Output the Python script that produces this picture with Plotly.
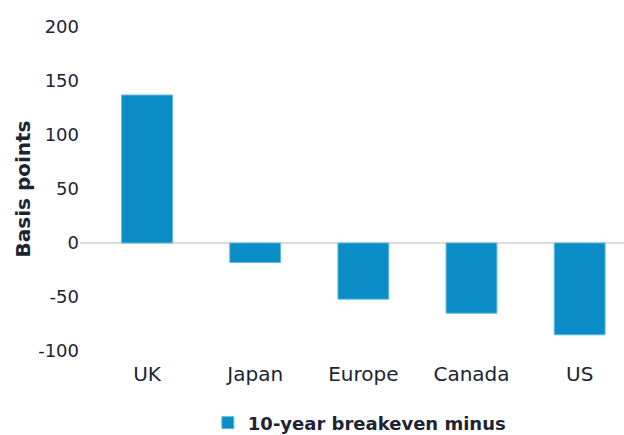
import plotly.graph_objects as go

categories = ["UK", "Japan", "Europe", "Canada", "US"]
values = [137, -18, -52, -65, -85]
series_name = "10-year breakeven minus"
y_ticks = [-100, -50, 0, 50, 100, 150, 200]
y_tick_labels = ["-100", "-50", "0", "50", "100", "150", "200"]

bar_color = "#0a8dc7"
text_color = "#1c2433"
font_family = "DejaVu Sans, sans-serif"

fig = go.Figure()
fig.add_trace(go.Bar(
    x=list(range(len(categories))),
    y=values,
    name=series_name,
    width=0.47,
    marker=dict(color=bar_color, line=dict(color="#5fb9e2", width=1)),
    showlegend=True,
))

fig.update_layout(
    width=624, height=435,
    margin=dict(l=80, r=0, t=27, b=84, autoexpand=False),
    paper_bgcolor="white", plot_bgcolor="white",
    font=dict(family=font_family, color=text_color, size=18),
    showlegend=True,
    legend=dict(orientation="h", x=0.235, xanchor="left", y=-0.222, yanchor="middle",
                font=dict(size=18, color=text_color, family=font_family, weight="bold"),
                itemwidth=30),
)
fig.update_xaxes(
    tickmode="array", tickvals=list(range(len(categories))), ticktext=categories,
    range=[-0.62, 4.41], showgrid=False, zeroline=False, showline=False,
    tickfont=dict(size=20, color=text_color, family=font_family), ticks="",
    ticklabelstandoff=9, automargin=False,
)
fig.update_yaxes(
    range=[-100, 200], tickmode="array", tickvals=y_ticks, ticktext=y_tick_labels,
    showgrid=False,
    zeroline=True, zerolinecolor="#dcdcdc", zerolinewidth=1.5,
    showline=False, ticks="", automargin=False,
    tickfont=dict(size=18, color=text_color, family=font_family),
    title=dict(text="Basis points", font=dict(size=20, color=text_color, family=font_family, weight="bold"),
               standoff=2),
)

fig.write_html("out.html", config={"displayModeBar": False},
               post_script="document.body.style.margin='0';")
